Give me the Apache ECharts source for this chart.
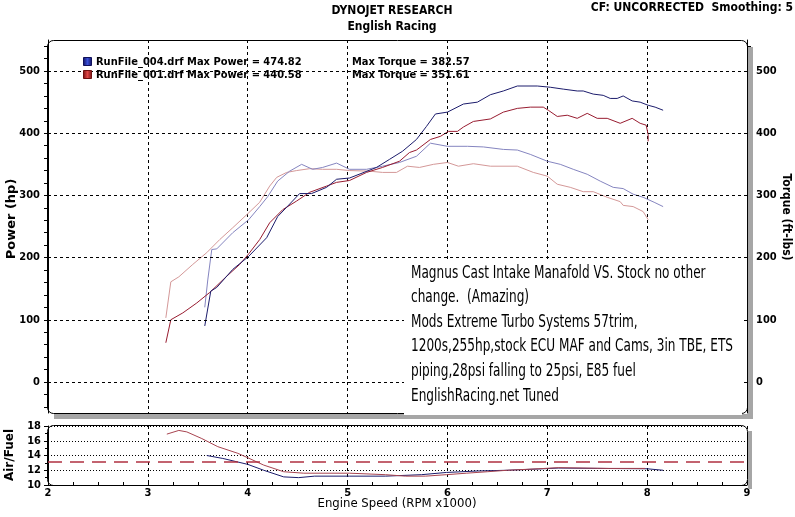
<!DOCTYPE html>
<html><head><meta charset="utf-8">
<script src="https://cdn.jsdelivr.net/npm/echarts@6.0.0/dist/echarts.min.js"></script>
<style>html,body{margin:0;padding:0;background:#fff}#c{width:795px;height:517px}</style>
</head><body><div id="c"></div>
<script>
// ---------- data ----------
const runNames = ['RunFile_004.drf', 'RunFile_001.drf'];
const maxPower = ['474.82', '440.58'];
const maxTorque = ['382.57', '351.61'];

const xTicks = [2, 3, 4, 5, 6, 7, 8, 9];
const powerTicks = [0, 100, 200, 300, 400, 500];
const afTicks = [10, 12, 14, 16, 18];
const afTarget = 13.2;

// RunFile_004 (blue) power
const blueHpRpm = [3.57,3.63,3.69,3.85,4.01,4.19,4.30,4.39,4.52,4.64,4.79,4.89,5.02,5.29,5.42,5.55,5.69,5.79,5.88,6.00,6.16,6.30,6.43,6.56,6.70,6.90,7.03,7.16,7.30,7.36,7.46,7.56,7.63,7.70,7.76,7.85,7.93,8.01,8.08,8.16];
const blueHp    = [90,146,152,181,202,232,266,281,303,303,313,326,328,345,358,371,390,411,431,434,447,450,462,468,476,476,474,471,468,468,463,461,456,456,460,452,450,445,442,437];
// RunFile_001 (red) power
const redHpRpm = [3.18,3.23,3.35,3.49,3.62,3.79,3.92,4.01,4.12,4.22,4.35,4.49,4.62,4.79,4.89,5.02,5.19,5.35,5.52,5.62,5.69,5.83,5.93,6.01,6.10,6.16,6.26,6.43,6.56,6.70,6.83,6.96,7.01,7.10,7.20,7.30,7.40,7.50,7.60,7.73,7.85,7.93,7.99,8.01,8.01];
const redHp    = [63,100,111,127,144,170,189,206,229,256,277,291,305,315,321,324,337,345,355,369,373,390,395,403,403,410,419,423,434,440,442,442,437,427,429,424,432,424,424,416,424,416,413,398,387];
// RunFile_004 (blue) torque
const blueTqRpm = [3.57,3.60,3.64,3.69,3.85,4.01,4.12,4.20,4.30,4.42,4.54,4.65,4.75,4.89,5.02,5.19,5.35,5.52,5.69,5.83,6.00,6.20,6.36,6.56,6.70,6.83,7.00,7.13,7.26,7.40,7.53,7.66,7.76,7.86,7.96,8.07,8.16];
const blueTq    = [120,164,213,214,240,261,282,298,323,339,350,342,345,352,342,342,347,353,363,384,379,379,378,374,373,366,355,350,342,334,323,313,311,302,297,289,282];
// RunFile_001 (red) torque
const redTqRpm = [3.18,3.23,3.31,3.45,3.59,3.72,3.85,4.01,4.12,4.22,4.29,4.39,4.49,4.62,4.75,4.89,5.02,5.22,5.35,5.49,5.60,5.72,5.86,6.00,6.11,6.26,6.43,6.70,6.86,7.00,7.10,7.23,7.36,7.46,7.60,7.73,7.76,7.86,7.96,8.01];
const redTq    = [103,161,169,189,208,229,248,272,289,315,329,337,340,343,342,342,340,339,337,337,347,345,350,353,347,351,347,347,337,331,318,313,306,306,297,290,284,282,274,261];
// Air/Fuel
const redAfRpm = [3.19,3.31,3.39,3.54,3.70,3.90,4.00,4.16,4.36,4.56,5.02,5.38,5.58,5.78,5.99,6.19,6.40,6.60,6.91,7.11,7.62,7.98];
const redAf    = [16.9,17.4,17.2,16.3,15.2,14.3,13.7,12.7,11.8,11.6,11.6,11.4,11.2,11.2,11.4,11.6,11.8,12.0,12.2,12.35,12.25,12.25];
const blueAfRpm = [3.59,3.75,4.00,4.16,4.36,4.51,4.67,5.02,5.38,5.74,5.99,6.30,6.60,6.96,7.11,7.50,8.00,8.16];
const blueAf    = [14.0,13.6,12.8,12.0,11.1,11.0,11.2,11.2,11.2,11.4,11.7,11.9,12.0,12.2,12.3,12.25,12.2,12.0];

const noteLines = [
  'Magnus Cast Intake Manafold VS. Stock no other',
  'change.  (Amazing)',
  'Mods Extreme Turbo Systems 57trim,',
  '1200s,255hp,stock ECU MAF and Cams, 3in TBE, ETS',
  'piping,28psi falling to 25psi, E85 fuel',
  'EnglishRacing.net Tuned'
];

// ---------- helpers ----------
const pairs = (xs, ys) => xs.map((x, i) => [x, ys[i]]);
const range = (a, b, s) => { const r = []; for (let v = a; v <= b + 1e-9; v += s) r.push(Math.round(v * 100) / 100); return r; };
const F = '"DejaVu Sans Condensed", "DejaVu Sans", sans-serif';
const C = { blueHp: '#1c1c6c', redHp: '#981c30', blueTq: '#8585c0', redTq: '#d49898', blueAf: '#1c1c6c', redAf: '#a84450' };

// measure annotation text to fit the box width
const mctx = document.createElement('canvas').getContext('2d');
const noteFont = '18px "DejaVu Sans Condensed", "DejaVu Sans", sans-serif';
mctx.font = noteFont;
const noteW = mctx.measureText(noteLines[3]).width;
const noteScale = 322 / noteW;

const chart = echarts.init(document.getElementById('c'), null, { renderer: 'canvas' });

const axisLbl = { fontFamily: F, fontWeight: 'bold', fontSize: 11, color: '#000' };

const graphics = [];
// shadows
graphics.push({ type: 'rect', z: 90, shape: { x: 748, y: 47, width: 5, height: 372 }, style: { fill: '#a6a6a6' } });
graphics.push({ type: 'rect', z: 90, shape: { x: 54, y: 414, width: 699, height: 5 }, style: { fill: '#a6a6a6' } });
graphics.push({ type: 'rect', z: 90, shape: { x: 748, y: 431, width: 4, height: 58 }, style: { fill: '#a6a6a6' } });
// frames
graphics.push({ type: 'rect', z: 95, shape: { x: 47.5, y: 40.5, width: 700, height: 373, r: 6 }, style: { fill: 'none', stroke: '#000', lineWidth: 1 } });
graphics.push({ type: 'rect', z: 95, shape: { x: 47.5, y: 425.5, width: 700, height: 60, r: 6 }, style: { fill: 'none', stroke: '#000', lineWidth: 1 } });
// annotation box
graphics.push({ type: 'rect', z: 100, shape: { x: 404, y: 260, width: 338, height: 155 }, style: { fill: '#fff' } });
noteLines.forEach((t, i) => {
  graphics.push({ type: 'text', z: 101, x: 411, y: 273 + i * 24.6, scaleX: noteScale, scaleY: 1,
    style: { text: t, font: noteFont, fill: '#000', textAlign: 'left', align: 'left', textVerticalAlign: 'middle', verticalAlign: 'middle' } });
});
// titles
const T = (text, x, y, font, align, rot) => graphics.push({ type: 'text', z: 110, x, y, rotation: rot || 0,
  style: { text, font, fill: '#000', textAlign: align, align, textVerticalAlign: 'middle', verticalAlign: 'middle' } });
T('DYNOJET RESEARCH', 392, 11, 'bold 12px ' + F, 'center');
T('English Racing', 392, 27, 'bold 12px ' + F, 'center');
T('CF: UNCORRECTED  Smoothing: 5', 793, 8, 'bold 12px ' + F, 'right');
T('Power (hp)', 12, 219, 'bold 13px "DejaVu Sans", sans-serif', 'center', Math.PI / 2);
T('Torque (ft-lbs)', 786, 217, 'bold 12px ' + F, 'center', -Math.PI / 2);
T('Air/Fuel', 10, 455, 'bold 12px "DejaVu Sans", sans-serif', 'center', Math.PI / 2);
T('Engine Speed (RPM x1000)', 397, 504, '13px ' + F, 'center');
// legend
const legCol = [['#3a50d8', '#10105a'], ['#e04848', '#701010']];
runNames.forEach((n, i) => {
  const y = 62 + i * 13;
  graphics.push({ type: 'rect', z: 110, shape: { x: 83.5, y: y - 4.5, width: 8, height: 8 },
    style: { fill: new echarts.graphic.LinearGradient(0, 0, 1, 0, [{ offset: 0, color: legCol[i][1] }, { offset: 0.5, color: legCol[i][0] }, { offset: 1, color: legCol[i][1] }]), stroke: legCol[i][1], lineWidth: 1 } });
  T(n + ' Max Power = ' + maxPower[i], 96, y, 'bold 11px ' + F, 'left');
  T('Max Torque = ' + maxTorque[i], 352, y, 'bold 11px ' + F, 'left');
});

const dash = [3, 3];
const option = {
  animation: false,
  backgroundColor: '#fff',
  graphic: { elements: graphics },
  grid: [
    { left: 48, right: 48, top: 40, bottom: 104 },
    { left: 48, right: 48, top: 426, bottom: 32 }
  ],
  xAxis: [
    { type: 'value', gridIndex: 0, min: xTicks[0], max: xTicks[xTicks.length - 1], interval: 1,
      axisLine: { show: false }, axisTick: { show: false }, axisLabel: { show: false },
      splitLine: { show: true, lineStyle: { color: '#000', type: dash, width: 1 } } },
    { type: 'value', gridIndex: 1, min: xTicks[0], max: xTicks[xTicks.length - 1], interval: 1,
      axisLine: { show: true, lineStyle: { color: '#000' } },
      axisTick: { show: true, inside: true, length: 4, lineStyle: { color: '#000' } },
      minorTick: { show: true, splitNumber: 4, length: 3, lineStyle: { color: '#000' } },
      axisLabel: Object.assign({ margin: 3 }, axisLbl),
      splitLine: { show: true, lineStyle: { color: '#000', type: dash, width: 1 } } }
  ],
  yAxis: [
    { type: 'value', gridIndex: 0, min: -50, max: 550, position: 'left',
      axisLine: { show: true, lineStyle: { color: '#000' } },
      axisTick: { show: true, length: 4, customValues: range(-40, 540, 20), lineStyle: { color: '#000' } },
      axisLabel: Object.assign({ margin: 8, customValues: powerTicks }, axisLbl),
      splitLine: { show: false } },
    { type: 'value', gridIndex: 0, min: -50, max: 550, position: 'right',
      axisLine: { show: true, lineStyle: { color: '#000' } },
      axisTick: { show: true, length: 4, customValues: range(-40, 540, 10), lineStyle: { color: '#000' } },
      axisLabel: Object.assign({ margin: 9, customValues: powerTicks }, axisLbl),
      splitLine: { show: false } },
    { type: 'value', gridIndex: 1, min: afTicks[0], max: afTicks[afTicks.length - 1], interval: 2,
      axisLine: { show: true, lineStyle: { color: '#000' } },
      axisTick: { show: true, length: 4, lineStyle: { color: '#000' } },
      minorTick: { show: true, splitNumber: 2, length: 3, lineStyle: { color: '#000' } },
      axisLabel: Object.assign({ margin: 7 }, axisLbl),
      splitLine: { show: true, lineStyle: { color: '#000', type: [1, 2], width: 1 } } }
  ],
  series: [
    { type: 'line', name: 'tq001', xAxisIndex: 0, yAxisIndex: 1, data: pairs(redTqRpm, redTq), showSymbol: false, lineStyle: { color: C.redTq, width: 1 }, silent: true,
      markLine: { silent: true, symbol: 'none', label: { show: false }, lineStyle: { color: '#000', type: dash, width: 1 },
        data: powerTicks.map(v => ({ yAxis: v })) } },
    { type: 'line', name: 'tq004', xAxisIndex: 0, yAxisIndex: 1, data: pairs(blueTqRpm, blueTq), showSymbol: false, lineStyle: { color: C.blueTq, width: 1 }, silent: true },
    { type: 'line', name: 'hp001', xAxisIndex: 0, yAxisIndex: 0, data: pairs(redHpRpm, redHp), showSymbol: false, lineStyle: { color: C.redHp, width: 1 }, silent: true },
    { type: 'line', name: 'hp004', xAxisIndex: 0, yAxisIndex: 0, data: pairs(blueHpRpm, blueHp), showSymbol: false, lineStyle: { color: C.blueHp, width: 1 }, silent: true },
    { type: 'line', name: 'af004', xAxisIndex: 1, yAxisIndex: 2, data: pairs(blueAfRpm, blueAf), showSymbol: false, lineStyle: { color: C.blueAf, width: 1 }, silent: true },
    { type: 'line', name: 'af001', xAxisIndex: 1, yAxisIndex: 2, data: pairs(redAfRpm, redAf), showSymbol: false, lineStyle: { color: C.redAf, width: 1 }, silent: true,
      markLine: { silent: true, symbol: 'none', label: { show: false }, lineStyle: { color: '#b03040', type: [14, 8], width: 1.5 },
        data: [{ yAxis: afTarget }] } }
  ]
};
chart.setOption(option);
</script>
</body></html>
